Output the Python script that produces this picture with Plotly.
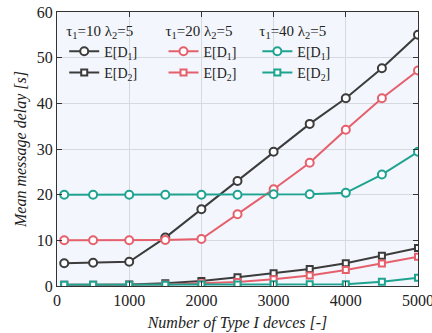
import plotly.graph_objects as go

x_devices = [100, 500, 1000, 1500, 2000, 2500, 3000, 3500, 4000, 4500, 5000]

d1_tau10 = [5.0, 5.1, 5.3, 10.6, 16.8, 23.0, 29.4, 35.5, 41.1, 47.7, 55.0]
d2_tau10 = [0.3, 0.3, 0.35, 0.6, 1.1, 1.9, 2.8, 3.7, 5.0, 6.6, 8.3]
d1_tau20 = [10.0, 10.0, 10.0, 10.1, 10.3, 15.7, 21.2, 27.0, 34.2, 41.1, 47.2]
d2_tau20 = [0.2, 0.2, 0.25, 0.35, 0.6, 0.9, 1.5, 2.3, 3.5, 4.9, 6.4]
d1_tau40 = [20.0, 20.0, 20.0, 20.0, 20.0, 20.0, 20.1, 20.1, 20.4, 24.4, 29.4]
d2_tau40 = [0.3, 0.3, 0.3, 0.3, 0.35, 0.35, 0.4, 0.4, 0.4, 0.95, 1.8]

colors = ["#3c3c3c", "#e5606c", "#1fa391"]
groups = [
    ("τ<sub>1</sub>=10 λ<sub>2</sub>=5", d1_tau10, d2_tau10, "legend"),
    ("τ<sub>1</sub>=20 λ<sub>2</sub>=5", d1_tau20, d2_tau20, "legend2"),
    ("τ<sub>1</sub>=40 λ<sub>2</sub>=5", d1_tau40, d2_tau40, "legend3"),
]

fig = go.Figure()
for (title, d1, d2, lg), c in zip(groups, colors):
    fig.add_trace(go.Scatter(
        x=x_devices, y=d1, mode="lines+markers", name="E[D<sub>1</sub>]",
        line=dict(color=c, width=2),
        marker=dict(symbol="circle", size=8, color="white", line=dict(color=c, width=2)),
        legend=lg))
    fig.add_trace(go.Scatter(
        x=x_devices, y=d2, mode="lines+markers", name="E[D<sub>2</sub>]",
        line=dict(color=c, width=2),
        marker=dict(symbol="square", size=6, color="white", line=dict(color=c, width=2)),
        legend=lg))

fam = "Liberation Serif, Times New Roman, serif"
font = dict(family=fam, size=15, color="#222")
legend_common = dict(
    bgcolor="rgba(0,0,0,0)", font=dict(family=fam, size=14, color="#222"),
    xanchor="left", yanchor="top", tracegroupgap=0, itemwidth=30,
)
fig.update_layout(
    width=432, height=333,
    margin=dict(l=57, r=14, t=12, b=47),
    paper_bgcolor="white", plot_bgcolor="#f3f6fc",
    font=font,
    legend=dict(x=0.02, y=0.985, title=dict(text=groups[0][0], font=dict(family=fam, size=15)), **legend_common),
    legend2=dict(x=0.295, y=0.985, title=dict(text=groups[1][0], font=dict(family=fam, size=15)), **legend_common),
    legend3=dict(x=0.555, y=0.985, title=dict(text=groups[2][0], font=dict(family=fam, size=15)), **legend_common),
)
axis_common = dict(
    showline=True, linecolor="#333", linewidth=1.2, mirror="ticks",
    ticks="inside", ticklen=5, tickcolor="#333",
    showgrid=True, gridcolor="#d6d9de", gridwidth=1, zeroline=False,
    tickfont=dict(family=fam, size=16), automargin=False, ticklabeloverflow="allow",
)
fig.update_xaxes(range=[0, 5000], dtick=1000,
                 title=dict(text="<i>Number of Type I devces [-]</i>", font=dict(family=fam, size=16), standoff=8),
                 **axis_common)
fig.update_yaxes(range=[0, 60], dtick=10,
                 title=dict(text="<i>Mean message delay [s]</i>", font=dict(family=fam, size=16), standoff=6),
                 **axis_common)

fig.write_html("out.html")
